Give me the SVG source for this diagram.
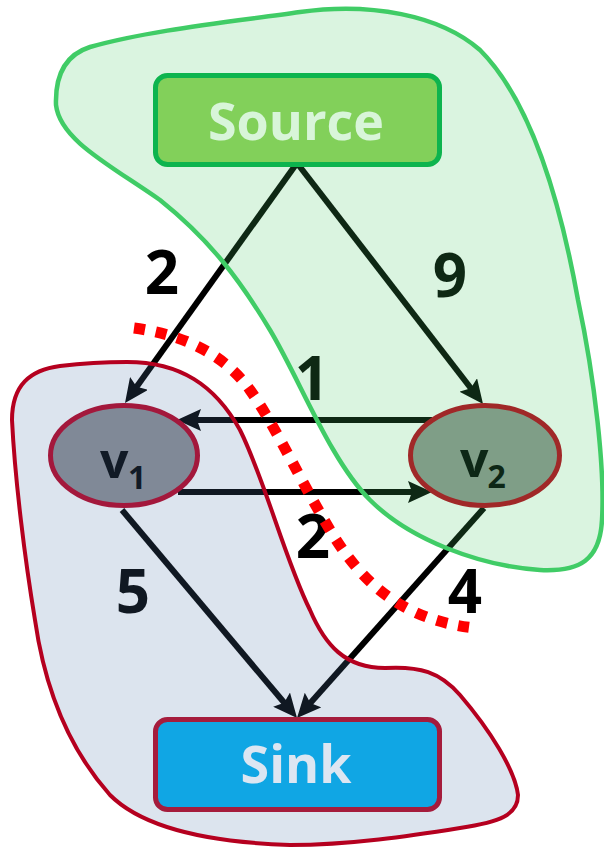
<svg xmlns="http://www.w3.org/2000/svg" width="604" height="848" viewBox="0 0 604 848">
<defs>
<style>
.edge{stroke:#000;stroke-width:6;fill:none;marker-end:url(#ah)}
.lbl{font-family:"Open Sans","DejaVu Sans",sans-serif;font-weight:bold;font-size:60px;fill:#000;text-anchor:middle}
.ntxt{font-family:"Open Sans","DejaVu Sans",sans-serif;font-weight:bold}
.box{stroke-width:5}
.ell{stroke-width:5}
</style>
<marker id="ah" markerUnits="userSpaceOnUse" markerWidth="24" markerHeight="22" refX="12" refY="11" orient="auto">
<path d="M0,0 L24,11 L0,22 L4,11 Z" fill="#000"/>
</marker>
</defs>
<rect width="604" height="848" fill="#fff"/>

<g id="connectors">
<line class="edge" x1="297" y1="163" x2="132" y2="393.2"/>
<line class="edge" x1="297" y1="163" x2="475.7" y2="394.5"/>
<line class="edge" x1="432" y1="420" x2="189" y2="420"/>
<line class="edge" x1="178" y1="492" x2="420" y2="492"/>
<line class="edge" x1="122" y1="510" x2="289.3" y2="708.8"/>
<line class="edge" x1="484" y1="508" x2="305" y2="709"/>
<g id="edge-labels">
<text class="lbl" x="162" y="294">2</text>
<text class="lbl" x="450" y="297">9</text>
<text class="lbl" x="312" y="400">1</text>
<text class="lbl" x="313" y="558">2</text>
<text class="lbl" x="133" y="613">5</text>
<text class="lbl" x="465" y="613">4</text>
</g>
</g>

<g id="source-region">
<path d="M300,12 C370,2 440,15 480,50 C530,100 560,200 578,300 C595,380 605,470 602,520 C600,560 580,572 540,570 C480,566 410,540 370,500 C330,460 300,380 270,330 C240,280 210,240 160,200 C110,165 60,140 56,105 C55,75 65,55 90,47 C150,30 230,22 300,12 Z" fill="#46c864" fill-opacity="0.2" stroke="#40cc66" stroke-width="4.5"/>
</g>
<g id="sink-region">
<path d="M127,362 C180,362 215,385 240,430 C265,480 285,560 310,610 C325,645 345,668 385,668 C420,666 440,672 460,695 C490,730 515,770 518,795 C518,815 500,822 460,828 C410,836 350,845 290,845 C200,842 140,825 110,795 C70,750 45,690 35,620 C25,560 15,480 12,420 C12,385 30,370 60,366 C85,363 105,362 127,362 Z" fill="#5078aa" fill-opacity="0.2" stroke="#b5001f" stroke-width="4"/>
</g>

<g id="source">
<rect class="box" x="155.5" y="75.5" width="284" height="89" rx="12" fill="#82d05a" stroke="#0db44e"/>
<text class="ntxt" x="296" y="140" font-size="52" fill="#d8f5d9" text-anchor="middle">Source</text>
</g>
<g id="sink">
<rect class="box" x="155.5" y="719.5" width="284" height="90" rx="12" fill="#10a6e4" stroke="#a51c3c"/>
<text class="ntxt" x="296" y="783" font-size="52" fill="#dce6f2" text-anchor="middle">Sink</text>
</g>
<g id="v1">
<ellipse class="ell" cx="124" cy="455.5" rx="73.5" ry="50" fill="#808997" stroke="#a3183c"/>
<text class="ntxt" x="100" y="478" font-size="50" fill="#111a26">v</text>
<text class="ntxt" x="128" y="489" font-size="32" fill="#111a26">1</text>
</g>
<g id="v2">
<ellipse class="ell" cx="485" cy="455.5" rx="74.5" ry="50" fill="#7f9e87" stroke="#a02828"/>
<text class="ntxt" x="460" y="477" font-size="50" fill="#0d2716">v</text>
<text class="ntxt" x="487.5" y="488" font-size="32" fill="#0d2716">2</text>
</g>

<g id="cut">
<path d="M134,328 C185,335 225,355 250,390 C275,425 300,480 330,530 C360,580 400,620 475,628" fill="none" stroke="#ff0000" stroke-width="11" stroke-dasharray="11 11"/>
</g>
</svg>
